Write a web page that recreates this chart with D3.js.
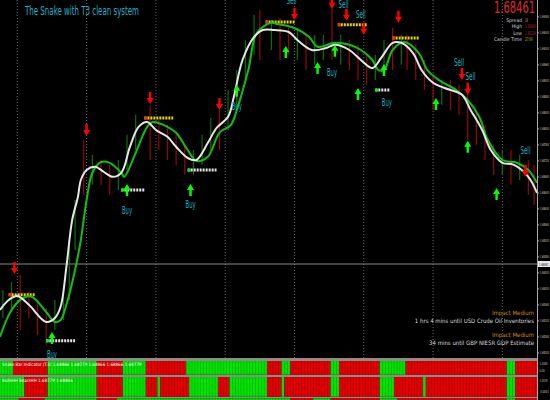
<!DOCTYPE html>
<html><head><meta charset="utf-8">
<script src="https://cdn.jsdelivr.net/npm/d3@7"></script>
<style>
  body { margin: 0; background: #000; overflow: hidden; }
  svg { display: block; }
  text { font-family: 'Liberation Sans Narrow', 'DejaVu Sans Condensed', sans-serif; }
</style></head>
<body>
<svg id="chart" width="550" height="400"></svg>
<script>
const title = "The Snake with T3 clean system"
const bidPrice = 1.68461
const tickLabels = [1.69120,1.69080,1.69040,1.69000,1.68960,1.68920,1.68880,1.68840,1.68800,1.68760,1.68720,
  1.68680,1.68640,1.68600,1.68560,1.68520,1.68480,1.68440,1.68400,1.68360,1.68320,1.68280,1.68240]
const gridBars = [6,30,54,78,102,126,150,174]

// [bar, price]
const t3Fast = [[0,1.68346],[3,1.68371],[6,1.68381],[10,1.68359],[16,1.68316],[19,1.68326],[21,1.68354],[23,1.68454],
  [25,1.68571],[27,1.68629],[28,1.68671],[30,1.68696],[33,1.68704],[36,1.68691],[39,1.68679],[42,1.68689],[45,1.68754],
  [48,1.68804],[51,1.68816],[54,1.68796],[58,1.68779],[61,1.68754],[65,1.68726],[68,1.68721],[72,1.68764],[75,1.68801],
  [79,1.68829],[81,1.68879],[84,1.68971],[88,1.69029],[91,1.69046],[95,1.69046],[100,1.69041],[103,1.69021],[108,1.68996],
  [113,1.69001],[116,1.69009],[121,1.68996],[125,1.68971],[129,1.68951],[132,1.68976],[136,1.69014],[139,1.69014],
  [143,1.68989],[146,1.68946],[150,1.68914],[154,1.68901],[160,1.68884],[163,1.68846],[167,1.68796],[170,1.68746],
  [174,1.68714],[178,1.68709],[183,1.68679],[186,1.68639]]
const t3Slow = [[0,1.68279],[4,1.68346],[8,1.68376],[11,1.68379],[16,1.68341],[19,1.68316],[21,1.68321],[23,1.68359],
  [26,1.68446],[28,1.68521],[30,1.68621],[32,1.68689],[35,1.68716],[38,1.68714],[42,1.68689],[43,1.68679],[47,1.68739],
  [51,1.68804],[53,1.68816],[58,1.68804],[61,1.68789],[65,1.68746],[68,1.68719],[72,1.68729],[76,1.68789],[80,1.68809],
  [82,1.68846],[86,1.68946],[89,1.69039],[94,1.69064],[96,1.69061],[102,1.69051],[107,1.69029],[110,1.69004],[116,1.69014],
  [121,1.69009],[125,1.68996],[129,1.68971],[131,1.68946],[133,1.68946],[136,1.68996],[140,1.69016],[145,1.68989],
  [148,1.68946],[152,1.68921],[158,1.68896],[162,1.68871],[166,1.68829],[169,1.68771],[174,1.68721],[179,1.68714],
  [183,1.68696],[186,1.68664]]

// [bar, high, low, up]
const candles = [[1,1.68396,1.68326,1],[4,1.68416,1.68341,1],[7,1.68434,1.68296,0],[10,1.68391,1.68326,0],
  [13,1.68371,1.68284,0],[16,1.68351,1.68259,0],[19,1.68371,1.68296,1],[22,1.68409,1.68321,1],[24,1.68521,1.68371,1],
  [26,1.68621,1.68496,1],[29,1.68771,1.68634,0],[32,1.68734,1.68659,1],[35,1.68721,1.68659,0],[38,1.68709,1.68634,0],
  [41,1.68721,1.68646,1],[44,1.68784,1.68696,1],[47,1.68834,1.68746,1],[52,1.68859,1.68721,0],[55,1.68821,1.68746,0],
  [58,1.68809,1.68721,0],[61,1.68784,1.68709,0],[64,1.68759,1.68684,0],[67,1.68746,1.68684,1],[70,1.68784,1.68709,1],
  [73,1.68826,1.68746,1],[76,1.68846,1.68746,0],[79,1.68896,1.68796,1],[82,1.68946,1.68846,1],[85,1.69021,1.68921,1],
  [88,1.69084,1.68984,1],[90,1.69096,1.68971,0],[94,1.69071,1.68996,1],[97,1.69076,1.68971,0],[100,1.69059,1.68984,0],
  [103,1.69051,1.68971,1],[106,1.69034,1.68946,0],[109,1.69034,1.68959,1],[112,1.69034,1.68971,1],[115,1.69121,1.68971,0],
  [118,1.69034,1.68959,1],[121,1.69021,1.68946,0],[124,1.69009,1.68921,0],[127,1.68984,1.68909,0],[130,1.68984,1.68921,1],
  [133,1.69021,1.68946,1],[136,1.69051,1.68946,0],[139,1.69034,1.68959,1],[141,1.69034,1.68946,0],[144,1.69009,1.68921,0],
  [147,1.68971,1.68896,0],[150,1.68934,1.68846,0],[153,1.68921,1.68859,1],[156,1.68921,1.68846,0],[159,1.68909,1.68834,0],
  [162,1.68896,1.68771,0],[165,1.68846,1.68759,0],[168,1.68809,1.68721,0],[171,1.68759,1.68684,0],[174,1.68746,1.68684,1],
  [177,1.68746,1.68659,0],[180,1.68734,1.68671,1],[183,1.68721,1.68634,0],[185,1.68709,1.68609,0]]

const sellArrows = [[5,1.68451],[30,1.68796],[52,1.68876],[76,1.68861],[102,1.69086],[115,1.69114],[120,1.69084],
  [126,1.69049],[138,1.69079],[160,1.68936],[162,1.68899],[182,1.68694]]
const buyArrows = [[18,1.68276],[44,1.68646],[66,1.68646],[82,1.68894],[99,1.68991],[116,1.68994],[110,1.68951],
  [124,1.68886],[133,1.68946],[151,1.68861],[162,1.68754],[172,1.68636]]
const buyLabels = [[18,1.68236],[44,1.68596],[66,1.68609],[82,1.68854],[115,1.68941],[134,1.68864]]
const sellLabels = [[101,1.69121],[119,1.69109],[125,1.69084],[159,1.68964],[163,1.68929],[182,1.68744]]
// [fromBar, toBar, price]
const sellLevels = [[3,12,1.68384],[50,60,1.68826],[92,102,1.69066],[117,127,1.69059],[136,145,1.69026]]
const buyLevels = [[16,26,1.68269],[42,50,1.68646],[65,75,1.68696],[130,135,1.68896]]

const infoRows = [["Spread","18"],["High","1.68866"],["Low","1.68234"],["Candle Time","27:09"]]
const newsRows = ["Impact Medium","1 hrs 4 mins until USD Crude Oil Inventories","Impact Medium","34 mins until GBP NIESR GDP Estimate"]

// [fromBar, toBar, bull]
const snakeBars = [[0,4,1],[5,16,0],[17,33,1],[34,42,0],[43,50,1],[51,64,0],[65,92,1],[93,97,0],[98,100,1],[101,114,0],
  [115,117,1],[118,131,0],[132,140,1],[141,175,0],[176,178,1],[179,186,0]]
const bullsBears = [[0,8,1],[9,16,0],[17,33,1],[34,42,0],[43,50,1],[51,54,0],[55,55,1],[56,65,0],[66,75,1],[76,79,0],
  [80,92,1],[93,97,0],[98,98,1],[99,114,0],[115,117,1],[118,131,0],[132,136,1],[137,146,0],[147,147,1],[148,175,0],
  [176,178,1],[179,186,0]]
const thirdBars = [[0,6,1],[7,15,0],[16,33,1],[34,40,0],[41,100,1],[101,108,0],[109,114,1],[115,131,0],[132,137,1],
  [138,175,0],[176,178,1],[179,186,0]]

const svg = d3.select("#chart")
const axisX = 537, mainBottom = 358
const x = d3.scaleLinear().domain([0, 186]).range([0, axisX])
const y = d3.scaleLinear().domain([1.69121 - mainBottom * 0.000025, 1.69121]).range([mainBottom, 0])
const cyan = "#1fb3c6"

svg.append("rect").attr("width", 550).attr("height", 400).attr("fill", "#000")

// grid
svg.selectAll(".grid").data(gridBars).enter().append("line")
  .attr("x1", d => x(d)).attr("x2", d => x(d)).attr("y1", 0).attr("y2", mainBottom)
  .attr("stroke", "#6a6a6a").attr("stroke-width", 1).attr("stroke-dasharray", "1,2")
svg.append("line").attr("x1", 0).attr("x2", axisX).attr("y1", y(bidPrice)).attr("y2", y(bidPrice))
  .attr("stroke", "#8a8a8a")

// candles
svg.selectAll(".candle").data(candles).enter().append("line")
  .attr("x1", d => x(d[0])).attr("x2", d => x(d[0]))
  .attr("y1", d => y(d[1])).attr("y2", d => y(d[2]))
  .attr("stroke", d => d[3] ? "#0b6e12" : "#960808").attr("stroke-width", 1.2)

// signal levels
const levels = (data, col, dot) => {
  svg.selectAll(null).data(data).enter().append("line")
    .attr("x1", d => x(d[0])).attr("x2", d => x(d[1])).attr("y1", d => y(d[2])).attr("y2", d => y(d[2]))
    .attr("stroke", col).attr("stroke-width", 3).attr("stroke-dasharray", "2,1")
  svg.selectAll(null).data(data).enter().append("line")
    .attr("x1", d => x(d[0])).attr("x2", d => x(d[0]) + 3).attr("y1", d => y(d[2])).attr("y2", d => y(d[2]))
    .attr("stroke", dot).attr("stroke-width", 3)
}
levels(sellLevels, "#e8d400", "#ff2a00")
levels(buyLevels, "#e4e4e4", "#00ee00")

// T3 lines
const line = d3.line().x(d => x(d[0])).y(d => y(d[1])).curve(d3.curveCatmullRom.alpha(0.5))
svg.append("path").datum(t3Slow).attr("d", line).attr("fill", "none").attr("stroke", "#10c010").attr("stroke-width", 2)
svg.append("path").datum(t3Fast).attr("d", line).attr("fill", "none").attr("stroke", "#e6e6e6").attr("stroke-width", 2)

// arrows
const arrow = "M-1.2,6L1.2,6L1.2,0L3.5,0L0,-6L-3.5,0L-1.2,0Z"
svg.selectAll(null).data(buyArrows).enter().append("path").attr("d", arrow)
  .attr("transform", d => `translate(${x(d[0])},${y(d[1])})`).attr("fill", "#00ff00")
svg.selectAll(null).data(sellArrows).enter().append("path").attr("d", arrow)
  .attr("transform", d => `translate(${x(d[0])},${y(d[1])}) rotate(180)`).attr("fill", "#ff0000")

const labels = (data, txt) => svg.selectAll(null).data(data).enter().append("text")
  .attr("x", d => x(d[0])).attr("y", d => y(d[1]) + 3.5).attr("text-anchor", "middle")
  .attr("font-size", 10).attr("fill", cyan).attr("textLength", 10).attr("lengthAdjust", "spacingAndGlyphs").text(txt)
labels(buyLabels, "Buy")
labels(sellLabels, "Sell")

// title
svg.append("text").attr("x", 25).attr("y", 15).attr("font-size", 13).attr("fill", cyan)
  .attr("textLength", 114).attr("lengthAdjust", "spacingAndGlyphs").text(title)

// info panel
svg.append("text").attr("x", 535).attr("y", 13).attr("text-anchor", "end").attr("font-size", 16).attr("fill", "#e02828")
  .attr("textLength", 41).attr("lengthAdjust", "spacingAndGlyphs").text(d3.format(".5f")(bidPrice))
const infoCol = ["#c8b400", "#b82020", "#b82020", "#c8b400"]
infoRows.forEach((r, i) => {
  svg.append("text").attr("x", 522).attr("y", 21.5 + i * 6.6).attr("text-anchor", "end")
    .attr("font-size", 5).attr("fill", "#d0d0d0").text(r[0])
  svg.append("text").attr("x", 525).attr("y", 21.5 + i * 6.6)
    .attr("font-size", 5).attr("fill", infoCol[i]).attr("textLength", r[1].length * 1.5)
    .attr("lengthAdjust", "spacingAndGlyphs").text(r[1])
})

// news
const newsY = [313, 321, 335, 343]
newsRows.forEach((t, i) => {
  svg.append("text").attr("x", 534).attr("y", newsY[i] + 2).attr("text-anchor", "end").attr("font-size", 6)
    .attr("fill", i % 2 ? "#d8d8d8" : "#d08a10").text(t)
})

// indicator panels
const panel = (runs, top, h, name) => {
  svg.append("rect").attr("x", 0).attr("y", top).attr("width", axisX).attr("height", h).attr("fill", "#000")
  runs.forEach(r => {
    svg.append("rect").attr("x", Math.max(0, x(r[0] - 0.5))).attr("y", top)
      .attr("width", Math.min(axisX, x(r[1] + 0.5)) - Math.max(0, x(r[0] - 0.5))).attr("height", h)
      .attr("fill", r[2] ? "#00a800" : "#a80000")
    svg.selectAll(null).data(d3.range(r[0], r[1] + 1)).enter().append("rect")
      .attr("x", d => x(d - 0.5) + 0.35).attr("y", top).attr("width", x(1) - 0.7).attr("height", h)
      .attr("fill", r[2] ? "#00e400" : "#e40000")
  })
  if (name) svg.append("text").attr("x", 2).attr("y", top + 4.5).attr("font-size", 4.5).attr("fill", "#fff").text(name)
}
svg.append("rect").attr("x", 0).attr("y", mainBottom).attr("width", 550).attr("height", 42).attr("fill", "#8c8c8c")
panel(snakeBars, 361, 13.5, "Snake Bar Indicator (T3) 1.68866 1.68779 1.68866 1.68866 1.68779")
panel(bullsBears, 377, 19.5, "BullsHH BearsHH 1.68779 1.68866")
panel(thirdBars, 398.5, 2, null)
svg.append("rect").attr("x", axisX).attr("y", mainBottom).attr("width", 13).attr("height", 42).attr("fill", "#000")

// price axis
const ax = svg.append("g").attr("transform", `translate(${axisX},0)`)
  .call(d3.axisRight(y).tickValues(tickLabels.slice(1)).tickSize(2).tickFormat(d3.format(".5f")))
ax.select(".domain").remove()
ax.selectAll("line").attr("stroke", "#aaa")
ax.selectAll("text").attr("font-size", 4).attr("fill", "#c4c4c4").attr("x", 2.5)
  .attr("textLength", 9.5).attr("lengthAdjust", "spacingAndGlyphs")
  .attr("font-family", "'Liberation Sans Narrow', 'DejaVu Sans Condensed', sans-serif")
svg.append("line").attr("x1", axisX + 0.5).attr("x2", axisX + 0.5).attr("y1", 0).attr("y2", 400).attr("stroke", "#a8a8a8")
svg.append("rect").attr("x", axisX + 1).attr("y", y(bidPrice) - 3).attr("width", 12).attr("height", 6).attr("fill", "#e8e8e8")
svg.append("text").attr("x", axisX + 2).attr("y", y(bidPrice) + 1.7).attr("font-size", 4).attr("fill", "#000")
  .attr("textLength", 9.5).attr("lengthAdjust", "spacingAndGlyphs").text(d3.format(".5f")(bidPrice))
const sideLabels = [["1.0040", 365], ["0.00", 372], ["1.0015", 382], ["-0.0001", 393]]
sideLabels.forEach(s => svg.append("text").attr("x", axisX + 2.5).attr("y", s[1]).attr("font-size", 4)
  .attr("fill", "#c4c4c4").attr("textLength", s[0].length * 1.35).attr("lengthAdjust", "spacingAndGlyphs").text(s[0]))
</script>
</body></html>
